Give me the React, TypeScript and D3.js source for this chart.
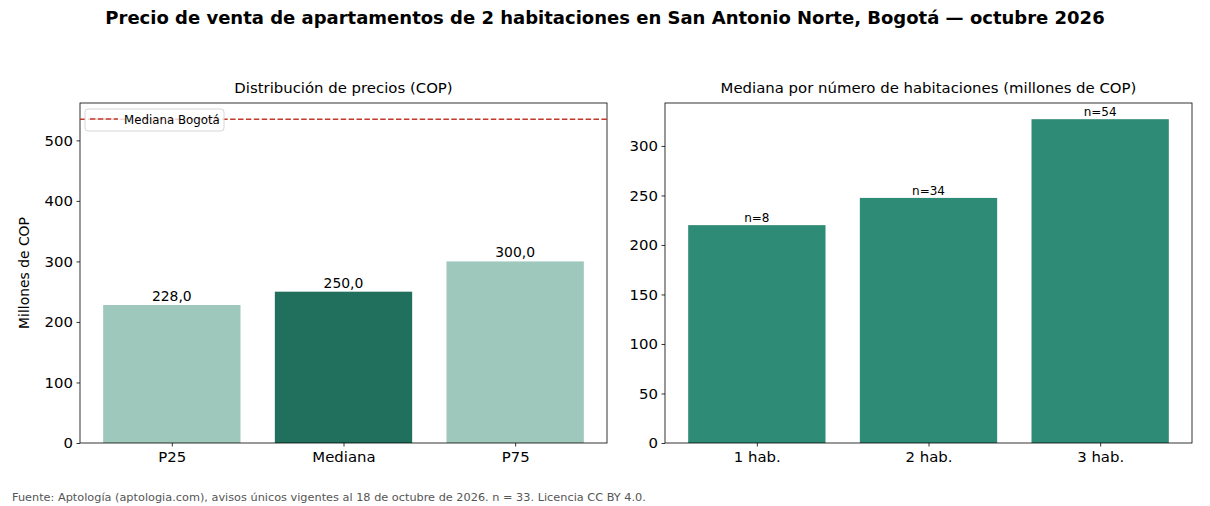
import { useEffect, useRef } from 'react'
import * as d3 from 'd3'

const priceLabels = ['P25', 'Mediana', 'P75']
const priceValues = [228.0, 250.0, 300.0]
const bogotaMedian = 535
const priceTicks = [0, 100, 200, 300, 400, 500]

const roomLabels = ['1 hab.', '2 hab.', '3 hab.']
const roomMedians = [220, 247.5, 327]
const roomCounts = [8, 34, 54]
const roomTicks = [0, 50, 100, 150, 200, 250, 300]

const FONT = 'DejaVu Sans, sans-serif'
const TICK_SIZE = '14.9px'

const App = () => {
  const svgRef = useRef<SVGSVGElement | null>(null)

  useEffect(() => {
    if (!svgRef.current) return
    const width = 1210
    const height = 506
    const svg = d3.select(svgRef.current)
    svg.selectAll('*').remove()
    svg.attr('width', width).attr('height', height).attr('viewBox', `0 0 ${width} ${height}`)
      .style('font-family', FONT)

    svg.append('rect').attr('width', width).attr('height', height).attr('fill', '#fff')

    // Figure title
    svg.append('text')
      .attr('x', 605).attr('y', 24)
      .attr('text-anchor', 'middle')
      .attr('font-size', '18px').attr('font-weight', 'bold')
      .text('Precio de venta de apartamentos de 2 habitaciones en San Antonio Norte, Bogotá — octubre 2026')

    const top = 103
    const bottom = 443

    const drawPanel = (
      left: number, right: number, title: string, labels: string[], values: number[],
      yMax: number, ticks: number[], colors: string[]
    ) => {
      const x = d3.scaleLinear().domain([-0.535, 2.535]).range([left, right])
      const y = d3.scaleLinear().domain([0, yMax]).range([bottom, top])
      const g = svg.append('g')

      g.selectAll('rect.bar')
        .data(values)
        .join('rect')
        .attr('class', 'bar')
        .attr('x', (_, i) => x(i - 0.4))
        .attr('width', x(0.4) - x(-0.4))
        .attr('y', d => y(d))
        .attr('height', d => bottom - y(d))
        .attr('fill', (_, i) => colors[i])

      // y axis
      const yAxis = g.append('g').attr('transform', `translate(${left},0)`)
        .call(d3.axisLeft(y).tickValues(ticks).tickSize(3.5).tickPadding(3.5).tickFormat(d3.format('d')))
      yAxis.select('.domain').remove()
      yAxis.selectAll('line').attr('stroke', '#000').attr('stroke-width', 0.8)
      yAxis.selectAll('text').attr('font-size', TICK_SIZE).attr('font-family', FONT).attr('fill', '#000')

      // x axis
      const xAxis = g.append('g').attr('transform', `translate(0,${bottom})`)
        .call(d3.axisBottom(x).tickValues([0, 1, 2]).tickSize(3.5).tickPadding(5)
          .tickFormat(d => labels[d as number]))
      xAxis.select('.domain').remove()
      xAxis.selectAll('line').attr('stroke', '#000').attr('stroke-width', 0.8)
      xAxis.selectAll('text').attr('font-size', TICK_SIZE).attr('font-family', FONT).attr('fill', '#000')

      g.append('rect')
        .attr('x', left).attr('y', top)
        .attr('width', right - left).attr('height', bottom - top)
        .attr('fill', 'none').attr('stroke', '#000').attr('stroke-width', 0.8)

      g.append('text')
        .attr('x', (left + right) / 2).attr('y', top - 10)
        .attr('text-anchor', 'middle')
        .attr('font-size', TICK_SIZE)
        .text(title)

      return { x, y, g }
    }

    // Left panel: price distribution
    const lp = drawPanel(80, 607, 'Distribución de precios (COP)', priceLabels, priceValues,
      bogotaMedian * 1.05, priceTicks, ['#9ec8bb', '#20705d', '#9ec8bb'])

    lp.g.append('line')
      .attr('x1', 80).attr('x2', 607)
      .attr('y1', lp.y(bogotaMedian)).attr('y2', lp.y(bogotaMedian))
      .attr('stroke', '#c0392b').attr('stroke-width', 1.5)
      .attr('stroke-dasharray', '5.5,2.4')

    lp.g.selectAll('text.val')
      .data(priceValues)
      .join('text')
      .attr('class', 'val')
      .attr('x', (_, i) => lp.x(i))
      .attr('y', d => lp.y(d) - 4)
      .attr('text-anchor', 'middle')
      .attr('font-size', '13.9px')
      .text(d => d.toFixed(1).replace('.', ','))

    lp.g.append('text')
      .attr('transform', `translate(29,${(top + bottom) / 2}) rotate(-90)`)
      .attr('text-anchor', 'middle')
      .attr('font-size', '13.9px')
      .text('Millones de COP')

    // Legend
    const lg = lp.g.append('g').attr('transform', 'translate(85,109)')
    lg.append('rect')
      .attr('width', 139).attr('height', 22).attr('rx', 3)
      .attr('fill', '#fff').attr('fill-opacity', 0.8)
      .attr('stroke', '#d6d6d6').attr('stroke-width', 1)
    lg.append('line')
      .attr('x1', 5).attr('x2', 33).attr('y1', 10).attr('y2', 10)
      .attr('stroke', '#c0392b').attr('stroke-width', 1.5)
      .attr('stroke-dasharray', '5.5,2.4')
    lg.append('text')
      .attr('x', 39).attr('y', 14.5)
      .attr('font-size', '11.8px')
      .text('Mediana Bogotá')

    // Right panel: median by room count
    const rp = drawPanel(665, 1192, 'Mediana por número de habitaciones (millones de COP)', roomLabels,
      roomMedians, d3.max(roomMedians)! * 1.05, roomTicks, ['#2e8b76', '#2e8b76', '#2e8b76'])

    rp.g.selectAll('text.n')
      .data(roomCounts)
      .join('text')
      .attr('class', 'n')
      .attr('x', (_, i) => rp.x(i))
      .attr('y', (_, i) => rp.y(roomMedians[i]) - 3)
      .attr('text-anchor', 'middle')
      .attr('font-size', '12px')
      .text(d => `n=${d}`)

    // Source note
    svg.append('text')
      .attr('x', 12).attr('y', 501)
      .attr('font-size', '11.3px')
      .attr('fill', '#555')
      .text('Fuente: Aptología (aptologia.com), avisos únicos vigentes al 18 de octubre de 2026. n = 33. Licencia CC BY 4.0.')
  }, [])

  return <svg ref={svgRef} style={{ display: 'block', position: 'absolute', left: 0, top: 0 }}></svg>
}

export default App
